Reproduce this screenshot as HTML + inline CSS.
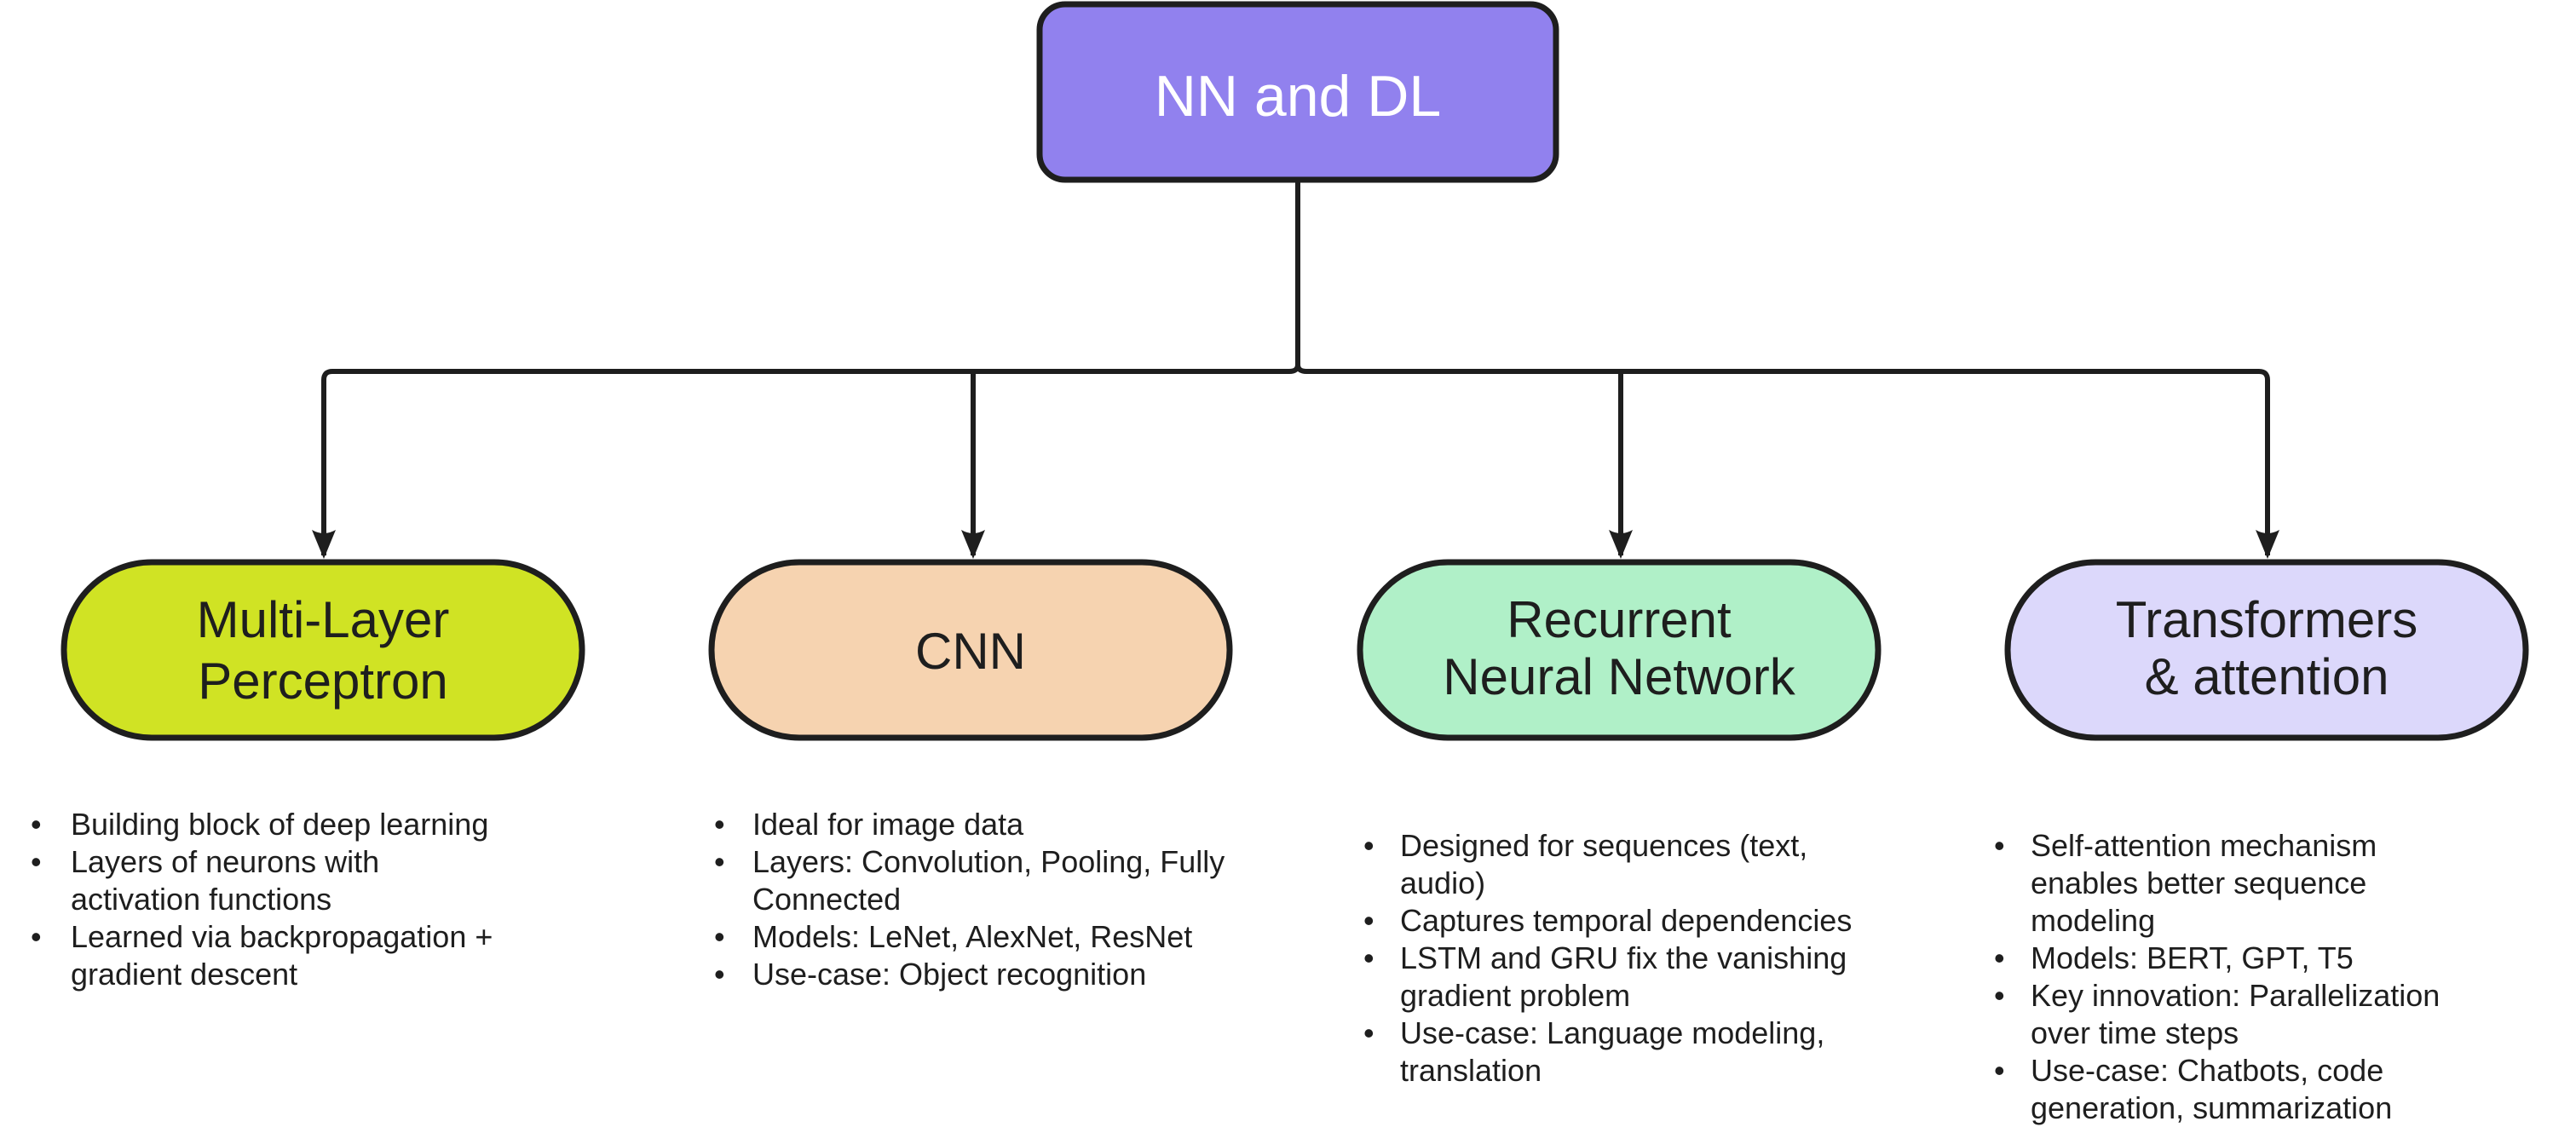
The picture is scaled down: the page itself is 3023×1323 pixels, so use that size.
<!DOCTYPE html>
<html><head><meta charset="utf-8"><style>
html,body{margin:0;padding:0;background:#fff;}
svg{display:block;}
text{font-family:"Liberation Sans",sans-serif;}
.b{font-size:36px;fill:#1e1e1e;}
.n{font-size:60px;fill:#1e1e1e;text-anchor:middle;}
</style></head><body>
<svg width="3023" height="1323" viewBox="0 0 3023 1323" xmlns="http://www.w3.org/2000/svg">
<defs><marker id="a" markerWidth="10" markerHeight="12" refX="5" refY="11" orient="auto" markerUnits="userSpaceOnUse" viewBox="0 0 10 12"><path d="M0,0 L5,12 L10,0" fill="none"/></marker></defs>
<rect x="1220" y="5" width="606" height="206" rx="30" fill="#9181ee" stroke="#1e1e1e" stroke-width="7"/>
<text x="1523" y="136" font-size="68" fill="#fff" text-anchor="middle">NN and DL</text>
<g stroke="#1e1e1e" stroke-width="6" fill="none">
<path d="M1523 211 V428"/>
<path d="M380 652 V446 Q380 436 390 436 H1513 Q1523 436 1523 428 Q1523 436 1533 436 H2651 Q2661 436 2661 446 V652"/>
<path d="M1142 436 Q1142 446 1142 456 V652"/>
<path d="M1902 436 Q1902 446 1902 456 V652"/>
</g>
<g fill="#1e1e1e">
<path d="M366 622 L380 656 L394 622 Q380 630 366 622Z"/>
<path d="M1128 622 L1142 656 L1156 622 Q1142 630 1128 622Z"/>
<path d="M1888 622 L1902 656 L1916 622 Q1902 630 1888 622Z"/>
<path d="M2647 622 L2661 656 L2675 622 Q2661 630 2647 622Z"/>
</g>
<g stroke="#1e1e1e" stroke-width="7">
<rect x="75" y="660" width="608" height="206" rx="103" fill="#d0e324"/>
<rect x="835" y="660" width="608" height="206" rx="103" fill="#f6d3b0"/>
<rect x="1596" y="660" width="608" height="206" rx="103" fill="#b0f0c8"/>
<rect x="2356" y="660" width="608" height="206" rx="103" fill="#dcd8fb"/>
</g>
<text class="n" x="379" y="748">Multi-Layer</text>
<text class="n" x="379" y="820">Perceptron</text>
<text class="n" x="1139" y="785">CNN</text>
<text class="n" x="1900" y="748">Recurrent</text>
<text class="n" x="1900" y="815">Neural Network</text>
<text class="n" x="2660" y="748">Transformers</text>
<text class="n" x="2660" y="815">&amp; attention</text>
<g class="b">
<text x="36" y="980">•</text><text x="83" y="980">Building block of deep learning</text>
<text x="36" y="1024">•</text><text x="83" y="1024">Layers of neurons with</text>
<text x="83" y="1068">activation functions</text>
<text x="36" y="1112">•</text><text x="83" y="1112">Learned via backpropagation +</text>
<text x="83" y="1156">gradient descent</text>

<text x="838" y="980">•</text><text x="883" y="980">Ideal for image data</text>
<text x="838" y="1024">•</text><text x="883" y="1024">Layers: Convolution, Pooling, Fully</text>
<text x="883" y="1068">Connected</text>
<text x="838" y="1112">•</text><text x="883" y="1112">Models: LeNet, AlexNet, ResNet</text>
<text x="838" y="1156">•</text><text x="883" y="1156">Use-case: Object recognition</text>

<text x="1600" y="1005">•</text><text x="1643" y="1005">Designed for sequences (text,</text>
<text x="1643" y="1049">audio)</text>
<text x="1600" y="1093">•</text><text x="1643" y="1093">Captures temporal dependencies</text>
<text x="1600" y="1137">•</text><text x="1643" y="1137">LSTM and GRU fix the vanishing</text>
<text x="1643" y="1181">gradient problem</text>
<text x="1600" y="1225">•</text><text x="1643" y="1225">Use-case: Language modeling,</text>
<text x="1643" y="1269">translation</text>

<text x="2340" y="1005">•</text><text x="2383" y="1005">Self-attention mechanism</text>
<text x="2383" y="1049">enables better sequence</text>
<text x="2383" y="1093">modeling</text>
<text x="2340" y="1137">•</text><text x="2383" y="1137">Models: BERT, GPT, T5</text>
<text x="2340" y="1181">•</text><text x="2383" y="1181">Key innovation: Parallelization</text>
<text x="2383" y="1225">over time steps</text>
<text x="2340" y="1269">•</text><text x="2383" y="1269">Use-case: Chatbots, code</text>
<text x="2383" y="1313">generation, summarization</text>
</g>
</svg>
</body></html>
